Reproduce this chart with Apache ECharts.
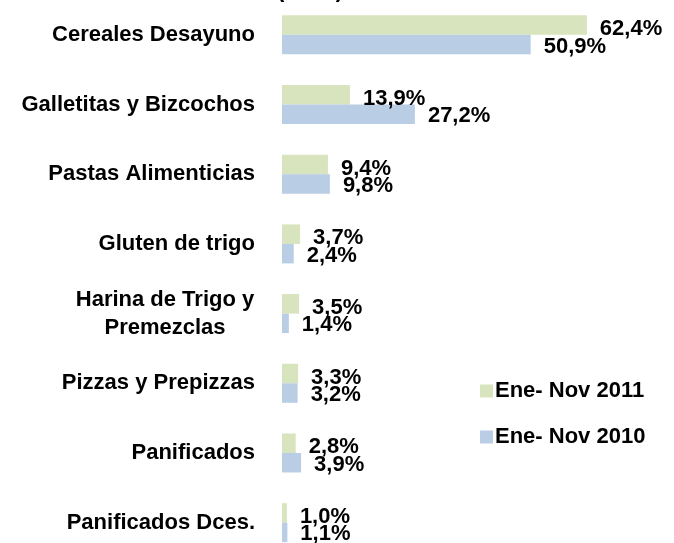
<!DOCTYPE html>
<html>
<head>
<meta charset="utf-8">
<script src="https://cdn.jsdelivr.net/npm/echarts@6/dist/echarts.min.js"></script>
<style>
  html, body { margin: 0; padding: 0; background: #fff; overflow: hidden; }
  /* canvas runs past the bottom of the window so the last row is cut like a page edge */
  #chart { width: 674px; height: 600px; }
</style>
</head>
<body>
<div id="chart"></div>
<script>
// Product categories, top to bottom
const categories = [
  'Cereales Desayuno',
  'Galletitas y Bizcochos',
  'Pastas Alimenticias',
  'Gluten de trigo',
  'Harina de Trigo y\nPremezclas',
  'Pizzas y Prepizzas',
  'Panificados',
  'Panificados Dces.'
];
// Share (%) per period
const share2011 = [62.4, 13.9, 9.4, 3.7, 3.5, 3.3, 2.8, 1.0];
const share2010 = [50.9, 27.2, 9.8, 2.4, 1.4, 3.2, 3.9, 1.1];
const seriesNames = ['Ene- Nov 2011', 'Ene- Nov 2010'];

const FONT = 'Liberation Sans, Arial, sans-serif';
const fmtPct = v => v.toFixed(1).replace('.', ',') + '%';

const chart = echarts.init(document.getElementById('chart'));

function barSeries(name, data, color, dy) {
  return {
    name: name,
    type: 'bar',
    data: data,
    barWidth: 19.5,
    barGap: '0%',
    itemStyle: { color: color },
    label: {
      show: true,
      position: 'right',
      distance: 13,
      offset: [0, dy],
      color: '#000',
      fontFamily: FONT,
      fontWeight: 'bold',
      fontSize: 22,
      formatter: p => fmtPct(p.value)
    }
  };
}

chart.setOption({
  animation: false,
  backgroundColor: '#fff',
  title: {
    text: '(en %)',
    left: 272,
    top: -25,
    textStyle: { fontFamily: FONT, fontWeight: 'bold', fontSize: 22, color: '#000' }
  },
  legend: {
    orient: 'vertical',
    left: 475,
    top: 375,
    itemWidth: 13,
    itemHeight: 13,
    itemGap: 24,
    icon: 'rect',
    data: seriesNames,
    textStyle: { fontFamily: FONT, fontWeight: 'bold', fontSize: 22, color: '#000', padding: [0, 0, 0, -3] }
  },
  grid: { left: 282, top: -1.5, width: 342, height: 559, containLabel: false },
  xAxis: {
    type: 'value',
    min: 0,
    max: 70,
    show: false,
    splitLine: { show: false }
  },
  yAxis: {
    type: 'category',
    inverse: true,
    data: categories,
    axisLine: { show: false },
    axisTick: { show: false },
    axisLabel: {
      margin: 27,
      color: '#000',
      fontFamily: FONT,
      fontWeight: 'bold',
      fontSize: 22,
      lineHeight: 28,
      formatter: v => v.indexOf('\n') >= 0
        ? v.split('\n').map(s => '{c|' + s + '}').join('\n')
        : v,
      rich: {
        c: { width: 180, align: 'center', fontFamily: FONT, fontWeight: 'bold', fontSize: 22, lineHeight: 28, color: '#000' }
      }
    }
  },
  series: [
    barSeries(seriesNames[0], share2011, '#D7E4BD', 4),
    barSeries(seriesNames[1], share2010, '#B9CDE5', 2)
  ]
});
</script>
</body>
</html>
